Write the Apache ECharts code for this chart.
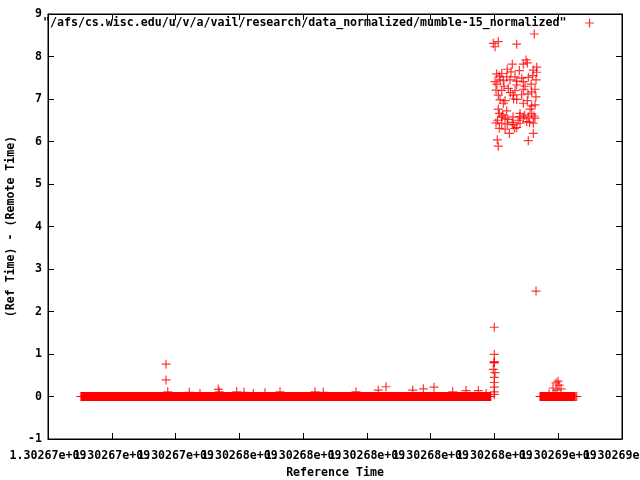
<!DOCTYPE html>
<html>
<head>
<meta charset="utf-8">
<script src="https://cdn.jsdelivr.net/npm/echarts@6/dist/echarts.min.js"></script>
<style>html,body{margin:0;padding:0;background:#fff}#c{width:640px;height:480px}</style>
</head>
<body>
<div id="c"></div>
<script>
// ---- data ----
const seriesName = '"/afs/cs.wisc.edu/u/v/a/vail/research/data_normalized/mumble-15_normalized"';
const xTitle = 'Reference Time';
const yTitle = '(Ref Time) - (Remote Time)';
const xMin = 1302670000, xMax = 1302688000, xStep = 2000;
const yMin = -1, yMax = 9, yStep = 1;
// periods during which every 10 s sample read ~0
const samplePeriod = 10;
const flatRuns = [[1302671035, 1302683890], [1302685430, 1302686530]];
const flatValue = 0;
// individual readings that stand out from the flat runs
const pointTimes = [
  1302673700,1302673700,1302673754,1302674431,1302674767,1302675341,1302675372,1302675918,1302676147,1302676438,
  1302676805,1302677276,1302678373,1302678634,1302679659,1302680358,1302680600,1302681437,1302681770,1302682105,
  1302682691,1302683108,1302683494,1302683736,
  1302683996,1302683996,1302683996,1302683996,1302683990,1302683964,1302684018,1302683996,1302683996,1302683996,1302683996,1302683996,
  1302685837,1302685931,1302685994,1302686025,1302685962,1302686088,1302685712,1302685900,1302686580,
  1302683964,1302684121,1302684018,1302684698,1302685250,
  1302684561,1302684990,1302684905,1302685031,
  1302685325,1302684071,1302684228,1302684520,1302684780,1302685219,1302685325,
  1302684153,1302684385,1302684645,1302684855,1302685062,1302684018,1302684279,1302684488,1302684905,1302685304,1302684698,
  1302684049,1302684228,1302684435,1302684645,1302684905,1302685168,1302685272,1302684121,1302684583,1302685053,
  1302684175,1302684332,1302684698,1302685031,1302685168,1302685272,1302684279,1302684905,
  1302684121,1302684385,1302685116,1302684228,1302684332,1302684583,1302684792,1302684905,1302685062,1302685272,1302684153,1302684802,1302685168,
  1302684049,1302684228,1302684404,1302684592,1302684802,1302685012,1302685219,1302684153,1302684332,1302684636,1302684698,1302684467,1302685219,
  1302684090,1302685062,1302684121,
  1302685304,
  1302684100,1302684260,1302684420,1302684560,1302684740,1302684950,1302685100,1302685240,
  1302684080,1302684300,1302684500,1302684700,1302684960,1302685150,1302685300,1302684180,1302684600,1302684850,1302685200,1302684400
];
const pointValues = [
  0.76,0.39,0.11,0.10,0.07,0.17,0.11,0.11,0.10,0.07,
  0.09,0.11,0.11,0.10,0.11,0.15,0.23,0.15,0.18,0.22,
  0.11,0.14,0.14,0.07,
  1.63,0.99,0.82,0.79,0.80,0.64,0.56,0.45,0.33,0.22,0.11,0.05,
  0.20,0.32,0.36,0.27,0.15,0.18,0.06,0.08,0.00,
  8.31,8.35,8.23,8.29,8.53,
  7.82,7.92,7.82,7.85,
  7.75,7.59,7.60,7.64,7.67,7.68,7.63,
  7.54,7.52,7.52,7.49,7.51,7.41,7.43,7.45,7.41,7.45,7.33,
  7.21,7.20,7.25,7.20,7.23,7.17,7.23,7.09,7.09,7.12,
  6.98,6.96,6.99,6.96,6.84,6.86,6.90,6.90,
  6.76,6.72,6.76,6.58,6.55,6.58,6.58,6.55,6.58,6.55,6.66,6.66,6.65,
  6.44,6.43,6.41,6.39,6.43,6.47,6.43,6.31,6.29,6.31,6.33,6.19,6.19,
  6.04,6.02,5.89,
  2.48,
  6.50,6.62,6.52,6.45,6.50,6.62,6.45,6.60,
  7.35,7.30,7.15,7.42,7.30,7.35,7.05,7.45,7.00,7.10,7.55,7.70
];

// ---- build ----
const data = [];
flatRuns.forEach(([a, b]) => { for (let t = a; t <= b; t += samplePeriod) data.push([t, flatValue]); });
pointTimes.forEach((t, i) => data.push([t, pointValues[i]]));

const plus = 'path://M3.9,0h1.2v9h-1.2zM0,3.9h9v1.2h-9z';
const font = { fontFamily: 'DejaVu Sans Mono', fontWeight: 'bold', fontSize: 11.6, color: '#000' };
const fmtX = v => (v / 1e9).toFixed(5) + 'e+09';
const axisLineStyle = { show: true, onZero: false, lineStyle: { color: '#000', width: 1 } };
const tickStyle = { show: true, inside: true, length: 6, lineStyle: { color: '#000' } };
const gridBox = { left: 48, right: 18, top: 14, bottom: 41, containLabel: false, outerBoundsMode: 'none' };

const chart = echarts.init(document.getElementById('c'), null, { renderer: 'canvas' });
chart.setOption({
  animation: false,
  backgroundColor: '#fff',
  grid: [
    { ...gridBox, show: true, borderColor: '#000', borderWidth: 1 },
    { ...gridBox, show: false }
  ],
  legend: {
    right: 46, top: 17, padding: 0, align: 'right', itemWidth: 36, itemHeight: 9,
    icon: plus, textStyle: font, data: [seriesName]
  },
  xAxis: [
    { gridIndex: 0, type: 'value', min: xMin, max: xMax, interval: xStep, position: 'bottom',
      name: xTitle, nameLocation: 'middle', nameGap: 28, nameTextStyle: font,
      axisLine: axisLineStyle, axisTick: tickStyle,
      axisLabel: { show: true, margin: 11, formatter: fmtX, showMinLabel: false, showMaxLabel: false,
                   hideOverlap: false, ...font },
      splitLine: { show: false } },
    { gridIndex: 0, type: 'value', min: xMin, max: xMax, interval: xStep, position: 'top',
      axisLine: axisLineStyle, axisTick: tickStyle,
      axisLabel: { show: false }, splitLine: { show: false } },
    // end labels (kept on their own axis so the overlapping neighbours are not dropped)
    { gridIndex: 1, type: 'value', min: xMin, max: xMax, interval: xStep, position: 'bottom',
      axisLine: { show: false }, axisTick: { show: false }, splitLine: { show: false },
      axisLabel: { show: true, margin: 11, hideOverlap: false, showMinLabel: true, showMaxLabel: true,
                   formatter: v => (v === xMin || v === xMax) ? fmtX(v) : '', ...font } }
  ],
  yAxis: [
    { gridIndex: 0, type: 'value', min: yMin, max: yMax, interval: yStep, position: 'left',
      name: yTitle, nameLocation: 'middle', nameGap: 25, nameRotate: 90, nameTextStyle: font,
      axisLine: axisLineStyle, axisTick: tickStyle,
      axisLabel: { show: true, margin: 6, hideOverlap: false, ...font },
      splitLine: { show: false } },
    { gridIndex: 0, type: 'value', min: yMin, max: yMax, interval: yStep, position: 'right',
      axisLine: axisLineStyle, axisTick: tickStyle,
      axisLabel: { show: false }, splitLine: { show: false } },
    { gridIndex: 1, type: 'value', min: yMin, max: yMax, show: false }
  ],
  series: [{
    name: seriesName, type: 'scatter', data: data,
    symbol: plus, symbolSize: 9, itemStyle: { color: '#ff0000' },
    xAxisIndex: 0, yAxisIndex: 0
  }]
});
</script>
</body>
</html>
